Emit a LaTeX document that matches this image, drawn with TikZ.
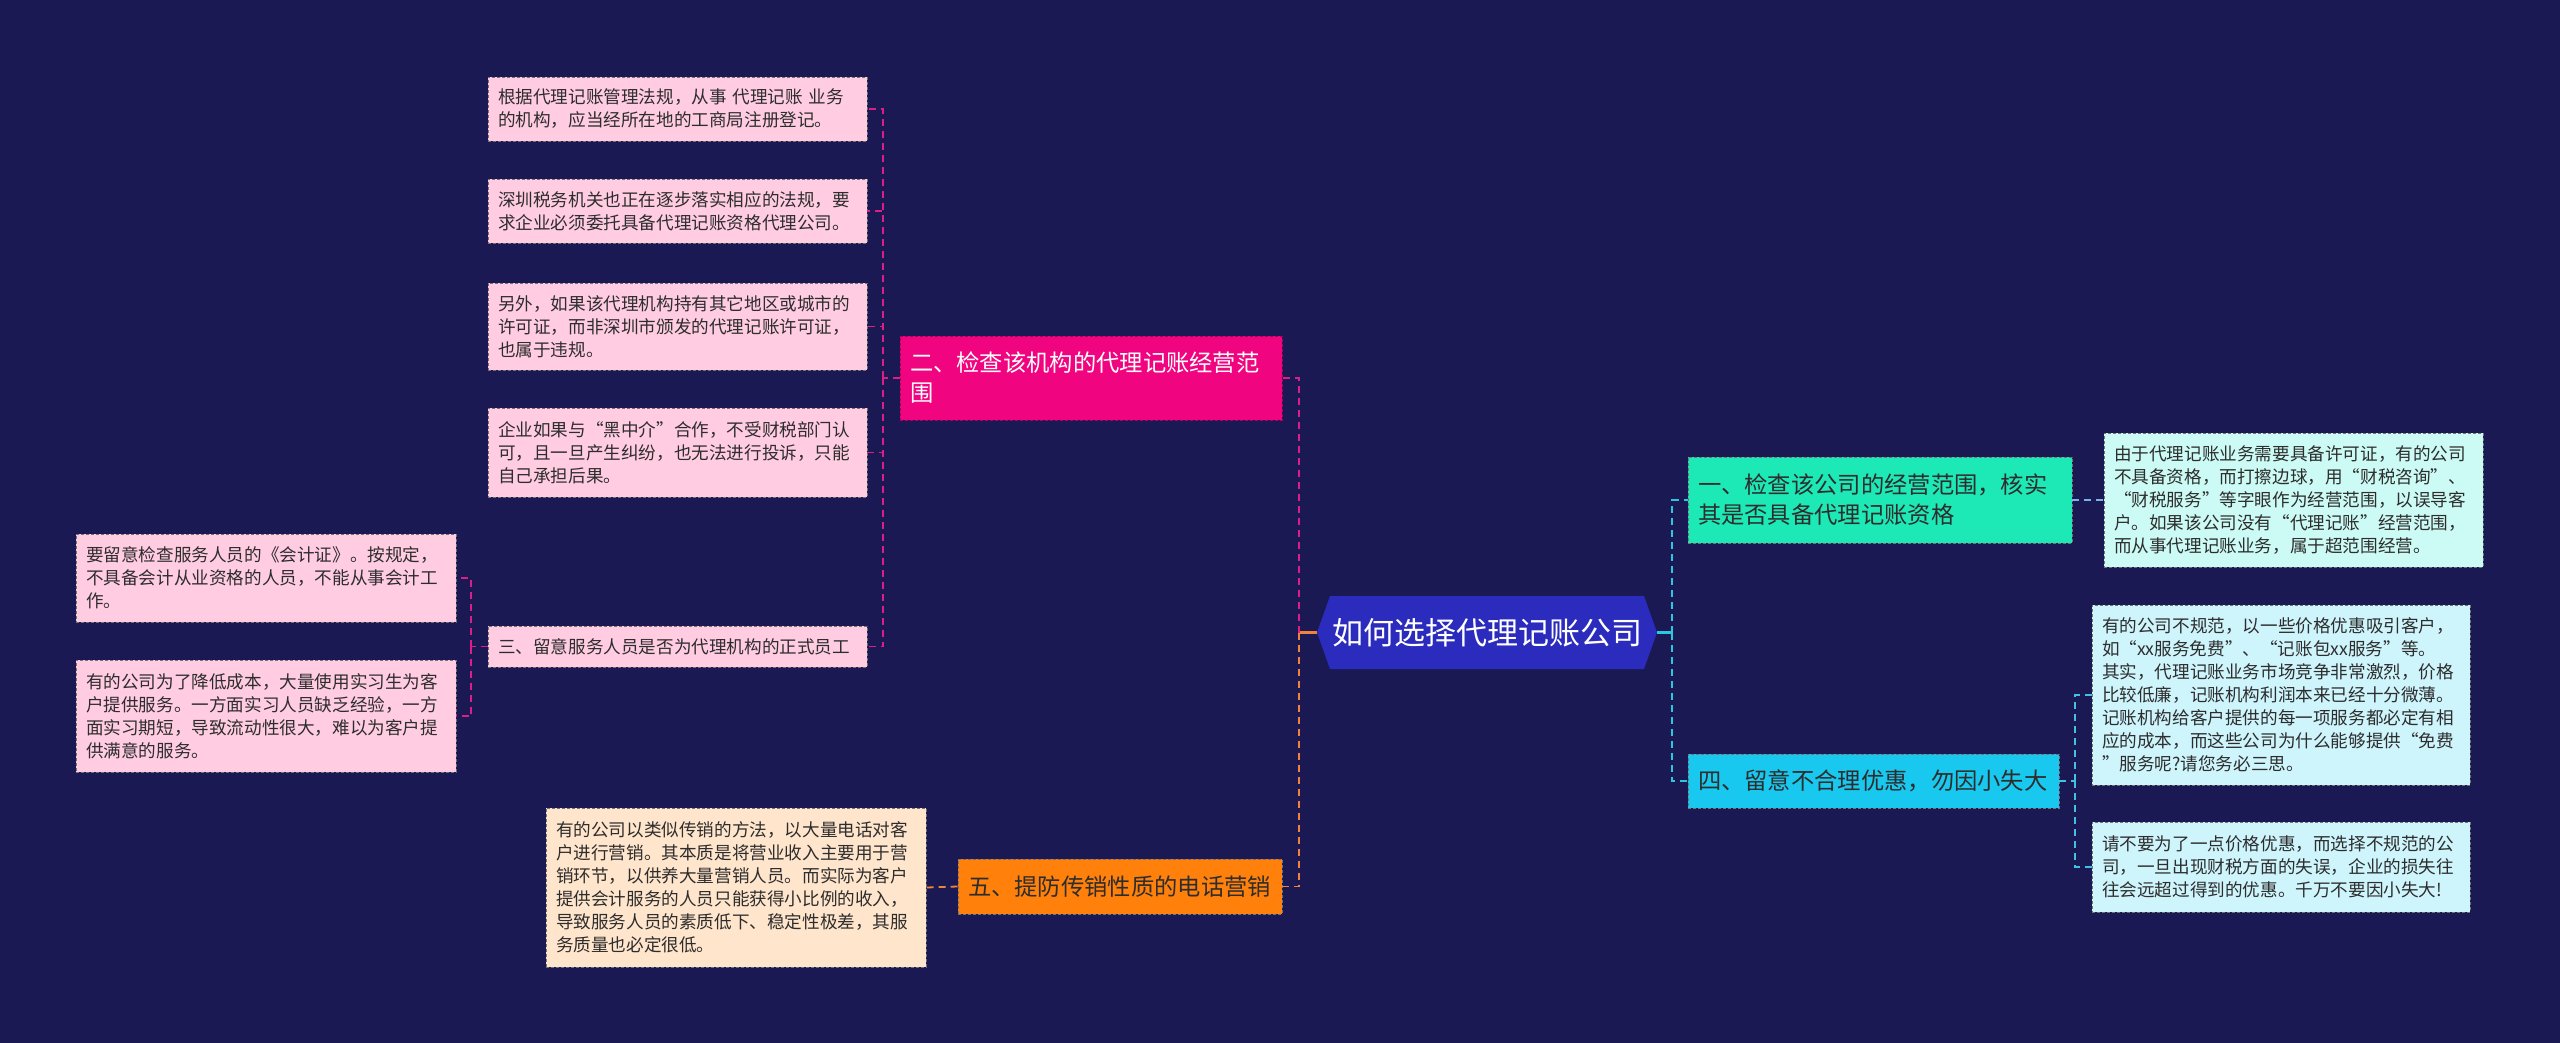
\documentclass[tikz,border=0pt]{standalone}
\usepackage{fontspec}
\setmainfont{Noto Sans CJK SC}
\usetikzlibrary{calc}
\definecolor{bg}{RGB}{27,25,84}
\definecolor{rootblue}{RGB}{43,43,190}
\definecolor{magenta2}{RGB}{240,4,127}
\definecolor{pinkleaf}{RGB}{255,204,226}
\definecolor{orange5}{RGB}{255,128,10}
\definecolor{peach}{RGB}{255,229,204}
\definecolor{teal1}{RGB}{29,233,182}
\definecolor{mint}{RGB}{204,250,244}
\definecolor{cyan4}{RGB}{24,200,238}
\definecolor{ice}{RGB}{206,244,252}
\definecolor{pinkline}{RGB}{220,30,135}
\definecolor{orangeline}{RGB}{240,130,60}
\definecolor{cyanline}{RGB}{40,200,225}
\definecolor{blueline}{RGB}{120,180,230}
\definecolor{txt}{RGB}{45,45,45}
\tikzset{
  box/.style={rectangle, inner xsep=10pt, inner ysep=0pt, align=left, text=txt,
    draw=black!55, line width=0.8pt, dash pattern=on 3pt off 2pt},
  leaf/.style={box, font=\fontsize{17.6}{23}\selectfont},
  cat/.style={box, font=\fontsize{23.3}{30}\selectfont},
  conn/.style={line width=1.8pt, dash pattern=on 7pt off 5pt},
  connsolid/.style={line width=2.4pt},
}
\begin{document}
\begin{tikzpicture}[x=1pt,y=-1pt]
\fill[bg] (0,0) rectangle (2560,1043);
\useasboundingbox (0,0) rectangle (2560,1043);

% root
\fill[rootblue] (1317,632.5) -- (1330,596) -- (1644,596) -- (1657,632.5) -- (1644,669) -- (1330,669) -- cycle;
\node[text=white, font=\fontsize{31}{36}\selectfont, minimum width=340pt, minimum height=73pt, inner sep=0pt] (root) at (1487,632.5) {如何选择代理记账公司};

% left branch 二
\node[cat, fill=magenta2, text=white, draw=magenta2!70!black, text width=362pt, minimum height=84pt] (n2) at (1091,378)
  {二、检查该机构的代理记账经营范\\围};
\node[leaf, fill=pinkleaf, text width=359pt, minimum height=64pt] (L1) at (677.5,109)
  {根据代理记账管理法规，从事 代理记账 业务\\的机构，应当经所在地的工商局注册登记。};
\node[leaf, fill=pinkleaf, text width=359pt, minimum height=64pt] (L2) at (677.5,211)
  {深圳税务机关也正在逐步落实相应的法规，要\\求企业必须委托具备代理记账资格代理公司。};
\node[leaf, fill=pinkleaf, text width=359pt, minimum height=87pt] (L3) at (677.5,326.5)
  {另外，如果该代理机构持有其它地区或城市的\\许可证，而非深圳市颁发的代理记账许可证，\\也属于违规。};
\node[leaf, fill=pinkleaf, text width=359pt, minimum height=89pt] (L4) at (677.5,452.5)
  {企业如果与“黑中介”合作，不受财税部门认\\可，且一旦产生纠纷，也无法进行投诉，只能\\自己承担后果。};
\node[leaf, fill=pinkleaf, text width=359pt, minimum height=41pt] (n3) at (677.5,646.5)
  {三、留意服务人员是否为代理机构的正式员工};
\node[leaf, fill=pinkleaf, text width=360pt, minimum height=88pt] (a3) at (266,578)
  {要留意检查服务人员的《会计证》。按规定，\\不具备会计从业资格的人员，不能从事会计工\\作。};
\node[leaf, fill=pinkleaf, text width=360pt, minimum height=112pt] (b3) at (266,716)
  {有的公司为了降低成本，大量使用实习生为客\\户提供服务。一方面实习人员缺乏经验，一方\\面实习期短，导致流动性很大，难以为客户提\\供满意的服务。};

% left branch 五
\node[cat, fill=orange5, text width=304pt, minimum height=55pt] (n5) at (1120,886.5)
  {五、提防传销性质的电话营销};
\node[leaf, fill=peach, text width=360pt, minimum height=159pt] (leaf5) at (736,887.5)
  {有的公司以类似传销的方法，以大量电话对客\\户进行营销。其本质是将营业收入主要用于营\\销环节，以供养大量营销人员。而实际为客户\\提供会计服务的人员只能获得小比例的收入，\\导致服务人员的素质低下、稳定性极差，其服\\务质量也必定很低。};

% right branch 一
\node[cat, fill=teal1, text width=364pt, minimum height=86pt] (n1) at (1880,500)
  {一、检查该公司的经营范围，核实\\其是否具备代理记账资格};
\node[leaf, fill=mint, text width=359pt, minimum height=134pt] (leaf1) at (2293.5,500)
  {由于代理记账业务需要具备许可证，有的公司\\不具备资格，而打擦边球，用“财税咨询”、\\“财税服务”等字眼作为经营范围，以误导客\\户。如果该公司没有“代理记账”经营范围，\\而从事代理记账业务，属于超范围经营。};

% right branch 四
\node[cat, fill=cyan4, text width=351pt, minimum height=54pt] (n4) at (1873.5,781)
  {四、留意不合理优惠，勿因小失大};
\node[leaf, fill=ice, text width=358pt, minimum height=180pt] (a4) at (2281,695)
  {有的公司不规范，以一些价格优惠吸引客户，\\如“xx服务免费”、“记账包xx服务”等。\\其实，代理记账业务市场竞争非常激烈，价格\\比较低廉，记账机构利润本来已经十分微薄。\\记账机构给客户提供的每一项服务都必定有相\\应的成本，而这些公司为什么能够提供“免费\\”服务呢?请您务必三思。};
\node[leaf, fill=ice, text width=358pt, minimum height=90pt] (b4) at (2281,867)
  {请不要为了一点价格优惠，而选择不规范的公\\司，一旦出现财税方面的失误，企业的损失往\\往会远超过得到的优惠。千万不要因小失大!};

% connectors left
\coordinate (jL) at (1299,632.5);
\draw[connsolid, orangeline] (root.west) -- (jL);
\draw[conn, pinkline] (jL) |- (n2.east);
\draw[conn, orangeline] (jL) |- (n5.east);
\coordinate (j2) at (883,378);
\draw[conn, pinkline] (n2.west) -- (j2);
\foreach \n in {L1,L2,L3,L4,n3} \draw[conn, pinkline] (j2) |- (\n.east);
\coordinate (j3) at (471,646.5);
\draw[conn, pinkline] (n3.west) -- (j3);
\draw[conn, pinkline] (j3) |- (a3.east);
\draw[conn, pinkline] (j3) |- (b3.east);
\draw[conn, orangeline] (n5.west) -- (leaf5.east);

% connectors right
\coordinate (jR) at (1672,632.5);
\draw[connsolid, cyanline] (root.east) -- (jR);
\draw[conn, cyanline] (jR) |- (n1.west);
\draw[conn, cyanline] (jR) |- (n4.west);
\draw[conn, blueline] (n1.east) -- (leaf1.west);
\coordinate (j4) at (2075,781);
\draw[conn, cyanline!70!blueline] (n4.east) -- (j4);
\draw[conn, cyanline!70!blueline] (j4) |- (a4.west);
\draw[conn, cyanline!70!blueline] (j4) |- (b4.west);
\end{tikzpicture}
\end{document}
